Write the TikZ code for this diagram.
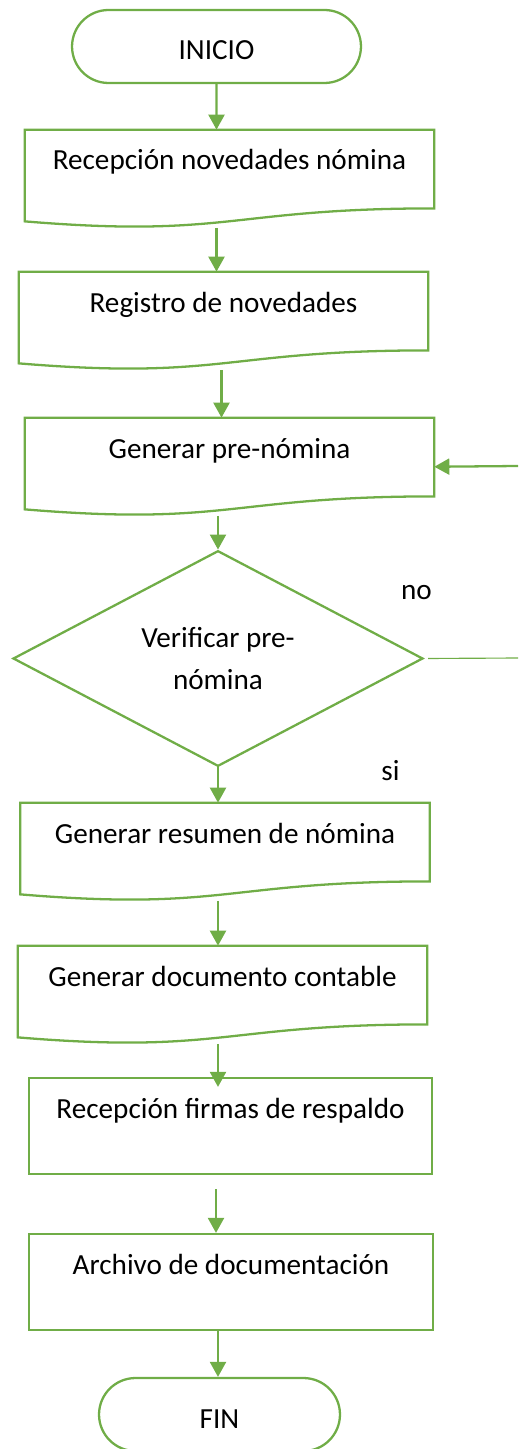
\documentclass[tikz,border=0pt]{standalone}
\usepackage{fontspec}
\setmainfont{Carlito}
\usetikzlibrary{calc, arrows.meta, shapes.geometric, shapes.misc}
\definecolor{verde}{RGB}{112,173,71}
\tikzset{
  flow/.style={draw=verde, line width=1.3pt},
  arr/.style={verde, line width=1.3pt, -{Triangle[length=0.3cm, width=0.32cm]}},
  term/.style={rounded rectangle, flow, minimum height=1.46cm, inner sep=0pt, text height=1cm, text depth=0.46cm},
  docu/.style={rectangle, minimum width=8.18cm, minimum height=1.95cm, inner sep=0pt, text height=0.8cm, text depth=1.15cm},
  proc/.style={rectangle, flow, minimum height=1.92cm, inner sep=0pt, text height=0.8cm, text depth=1.12cm},
  decis/.style={diamond, flow, minimum width=8.2cm, minimum height=3.86cm, inner sep=0pt, align=center}
}
\newcommand{\docedge}[1]{%
  \draw[flow] (#1.north west) -- (#1.north east)
    -- ($(#1.north east)!0.802!(#1.south east)$)
    .. controls ($(#1.north)!0.802!(#1.south)$) and ($(#1.north)!1.107!(#1.south)$)
    .. ($(#1.north west)!0.934!(#1.south west)$) -- cycle;}
\begin{document}
\begin{tikzpicture}[x=0.02cm, y=-0.02cm, font=\fontsize{16.6}{23.9}\selectfont]
\useasboundingbox (0,0) rectangle (518,1449);
\node[term, minimum width=5.78cm] (ini) at (216.5,46.5) {INICIO};
\node[docu] (rec) at (229.5,178.75) {Recepción novedades nómina};
\node[docu] (reg) at (223.5,320.75) {Registro de novedades};
\node[docu] (gen) at (229.5,466.75) {Generar pre-nómina};
\node[decis] (ver) at (218,658.5) {Verificar pre-\\nómina};
\node[docu] (res) at (225,851.75) {Generar resumen de nómina};
\node[docu] (con) at (222.5,994.75) {Generar documento contable};
\node[proc, minimum width=8.06cm] (fir) at (230.5,1126) {Recepción firmas de respaldo};
\node[proc, minimum width=8.08cm] (arc) at (231,1282) {Archivo de documentación};
\node[term, minimum width=4.82cm] (fin) at (219.5,1414.5) {FIN};
\node[anchor=base] (no) at (416.5,599) {no};
\node[anchor=base] (si) at (390.5,780) {si};
\coordinate (salida) at (518,658);
\coordinate (regreso) at (518,466);

\foreach \n in {rec, reg, gen, res, con} {\docedge{\n}}

\draw[arr] (ini) -- (rec.north -| ini);
\draw[arr] (rec.south -| ini) -- (reg.north -| ini);
\draw[arr] ($(reg.south -| ini)+(5,0)$) -- ($(gen.north -| ini)+(5,0)$);
\draw[arr] (gen.south -| ver) -- (ver);
\draw[arr] (ver) -- (res.north -| ver);
\draw[arr] (res.south -| ver) -- (con.north -| ver);
\draw[arr, shorten >=-0.2cm] (con.south -| ver) -- (fir.north -| ver);
\draw[arr, shorten <=0.28cm] ($(fir.south -| ver)+(-2,0)$) -- ($(arc.north -| ver)+(-2,0)$);
\draw[arr] (arc.south -| ver) -- (fin.north -| ver);
\draw[verde, line width=0.65pt, shorten <=0.08cm] (ver.east) -- (salida);
\draw[arr] (regreso) -- (gen.east);
\end{tikzpicture}
\end{document}
